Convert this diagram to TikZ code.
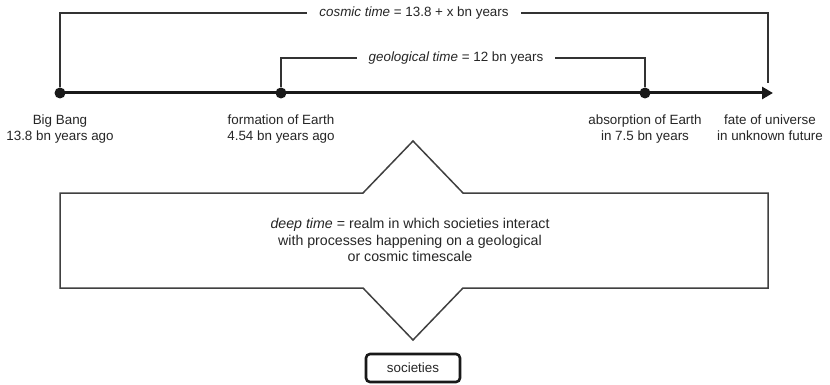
\documentclass[tikz,border=0pt]{standalone}
\usepackage{fontspec}
\setmainfont{Liberation Sans}
\usetikzlibrary{arrows.meta}
\begin{document}
\begin{tikzpicture}[x=1pt,y=-1pt,
  every node/.style={font=\fontsize{13.4}{16}\selectfont, text=black!85},
  dot/.style={circle, fill=black!90, inner sep=0pt, minimum size=11pt},
  bracket/.style={draw=black!80, line width=1.4pt},
  gaplabel/.style={fill=white, inner xsep=12pt, inner ysep=2pt},
  evlabel/.style={align=center, anchor=north, inner sep=0pt},
  realm/.style={draw=black!75, line width=1.5pt, line join=miter},
  socbox/.style={draw=black!90, line width=2.6pt, rounded corners=4pt, minimum width=94pt, minimum height=28pt, inner sep=0pt}]
\useasboundingbox (0,0) rectangle (830,385);
\fill[white] (0,0) rectangle (830,385);
% timeline
\node[dot] (bb) at (60,93) {};
\node[dot] (fe) at (281,93) {};
\node[dot] (ae) at (645,93) {};
\coordinate (end) at (773,93);
\draw[line width=3pt, black!90, -{Triangle[length=11pt,width=12pt]}] (bb.center) -- (end);
% cosmic bracket
\coordinate (c1) at (60,13);
\coordinate (c2) at (768,13);
\coordinate (cend) at (768,83);
\draw[bracket] (bb.north) -- (c1) -- (c2) -- (cend);
\node[gaplabel] (cosmic) at (414,13) {\textit{cosmic time} = 13.8 + x bn years};
% geological bracket
\coordinate (g1) at (281,58);
\coordinate (g2) at (645,58);
\draw[bracket] (fe.north) -- (g1) -- (g2) -- (ae.north);
\node[gaplabel] (geo) at (456,58) {\textit{geological time} = 12 bn years};
% event labels
\node[evlabel] (lbb) at (60,115) {Big Bang\\13.8 bn years ago};
\node[evlabel] (lfe) at (281,115) {formation of Earth\\4.54 bn years ago};
\node[evlabel] (lae) at (645,115) {absorption of Earth\\in 7.5 bn years};
\node[evlabel] (lend) at (770,115) {fate of universe\\in unknown future};
% realm shape
\draw[realm] (60,193) -- (363,193) -- (413,141) -- (463,193) -- (768,193)
  -- (768,288) -- (463,288) -- (413,340) -- (363,288) -- (60,288) -- cycle;
\node[align=center, inner sep=0pt, font=\fontsize{14.2}{16.5}\selectfont] (deep) at (410,240)
  {\textit{deep time} = realm in which societies interact\\with processes happening on a geological\\or cosmic timescale};
% societies
\node[socbox] (soc) at (413,368) {societies};
\end{tikzpicture}
\end{document}
